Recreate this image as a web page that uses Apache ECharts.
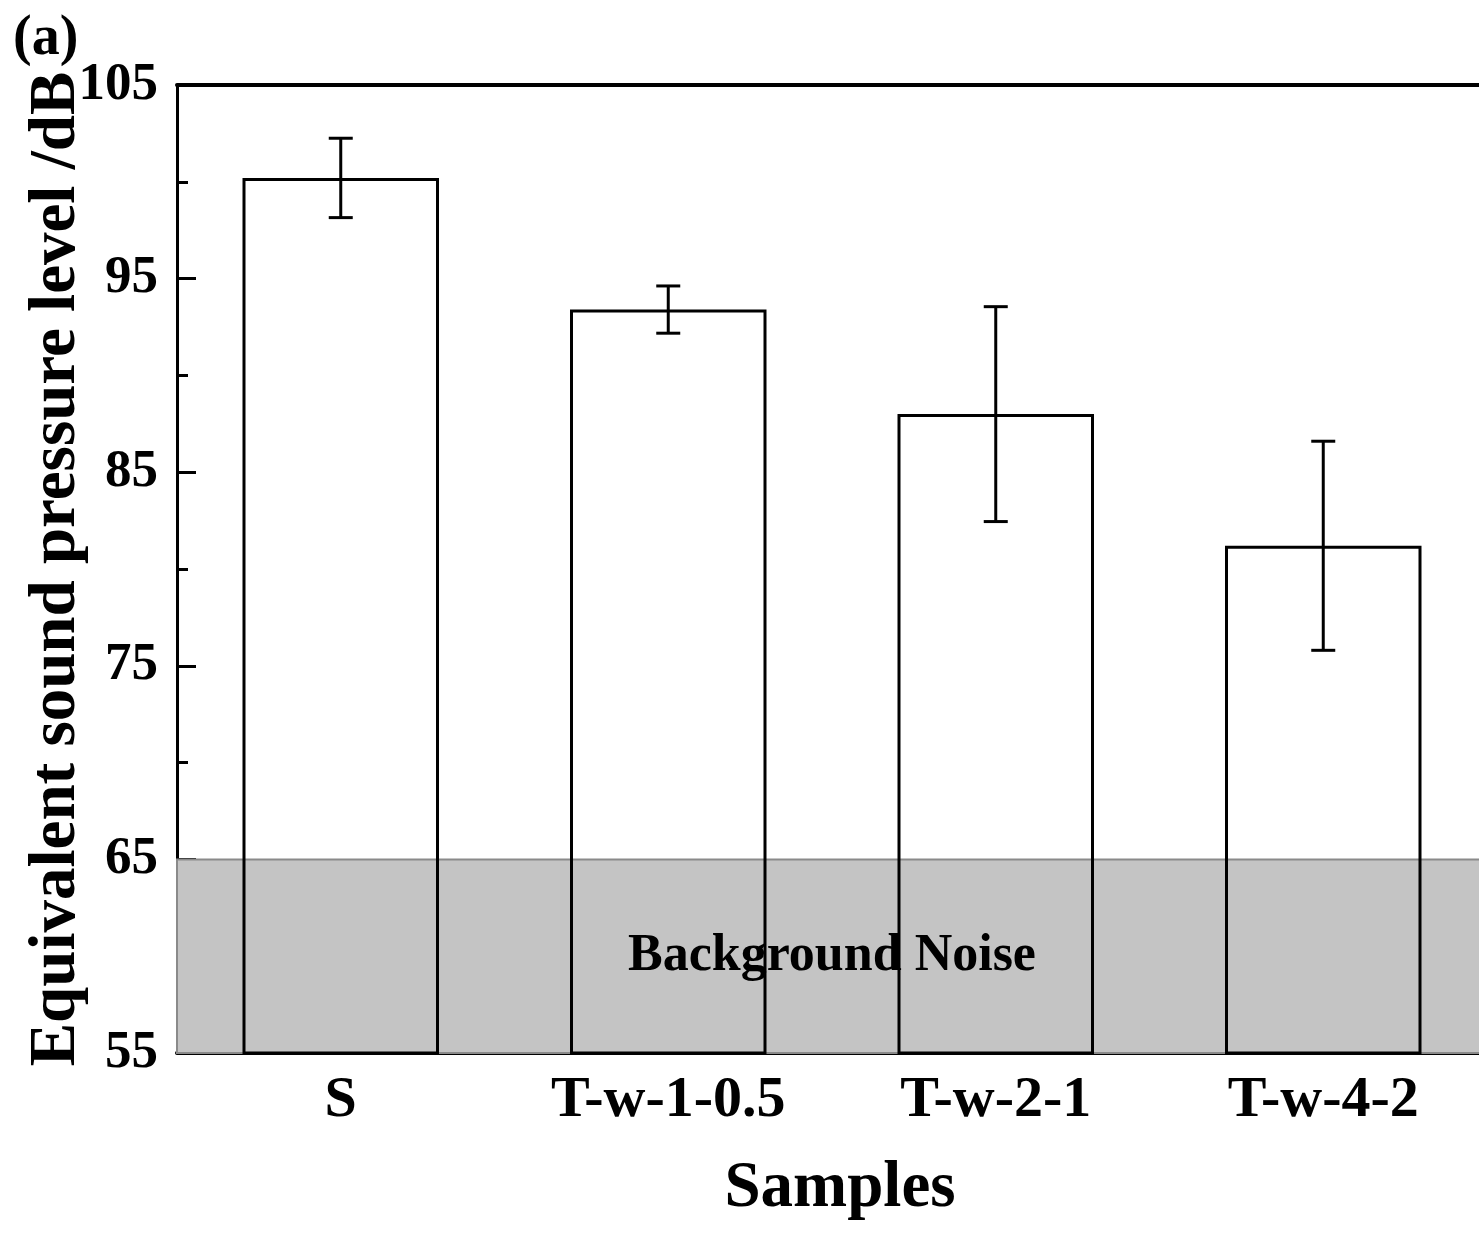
<!DOCTYPE html>
<html><head><meta charset="utf-8">
<script src="https://cdn.jsdelivr.net/npm/echarts@6/dist/echarts.min.js"></script>
<style>html,body{margin:0;padding:0;background:#fff;overflow:hidden}#c{width:1479px;height:1233px}</style>
</head><body><div id="c"></div>
<script>
const categories = ['S', 'T-w-1-0.5', 'T-w-2-1', 'T-w-4-2'];
const means = [100.2, 93.4, 88.0, 81.2];
const errors = [2.05, 1.22, 5.55, 5.4];
const yMin = 55, yMax = 105, yStep = 10;
const noiseBand = [55, 65];
const noiseLabel = 'Background Noise';
const panelLabel = '(a)';
const xTitle = 'Samples';
const yTitle = 'Equivalent sound pressure level /dB';

const FONT = '"Liberation Serif", "Times New Roman", serif';
const chart = echarts.init(document.getElementById('c'), null, {renderer: 'canvas'});

const errData = categories.map((c, i) => [i, means[i] - errors[i], means[i] + errors[i]]);

chart.setOption({
  backgroundColor: '#fff',
  animation: false,
  title: {
    text: panelLabel, left: 8, top: 7,
    textStyle: {fontFamily: FONT, fontWeight: 'bold', fontSize: 56, color: '#000'}
  },
  grid: {left: 177, right: -8, top: 85, bottom: 180, containLabel: false, outerBoundsMode: 'none'},
  xAxis: [{
    type: 'category', data: categories, position: 'bottom',
    axisLine: {show: true, lineStyle: {color: '#000', width: 4}},
    axisTick: {show: true, inside: true, alignWithLabel: true, length: 18, lineStyle: {color: '#000', width: 3}},
    axisLabel: {fontFamily: FONT, fontWeight: 'bold', fontSize: 58, color: '#000', margin: 19},
    splitLine: {show: false},
    name: xTitle, nameLocation: 'middle', nameGap: 104,
    nameTextStyle: {fontFamily: FONT, fontWeight: 'bold', fontSize: 65, color: '#000', padding: [0, 0, 0, 16]}
  }, {
    type: 'category', data: categories, position: 'top',
    axisLine: {show: true, lineStyle: {color: '#000', width: 4}},
    axisTick: {show: false}, axisLabel: {show: false}, splitLine: {show: false}
  }],
  yAxis: {
    type: 'value', min: yMin, max: yMax, interval: yStep,
    axisLine: {show: true, lineStyle: {color: '#000', width: 3}},
    axisTick: {show: true, inside: true, length: 19, lineStyle: {color: '#000', width: 3}},
    minorTick: {show: true, splitNumber: 2, length: 11, lineStyle: {color: '#000', width: 3}},
    axisLabel: {fontFamily: FONT, fontWeight: 'bold', fontSize: 53, color: '#000', margin: 19},
    splitLine: {show: false},
    name: yTitle, nameLocation: 'middle', nameRotate: 90, nameGap: 87, nameMoveOverlap: false,
    nameTextStyle: {fontFamily: FONT, fontWeight: 'bold', fontSize: 65, color: '#000'}
  },
  series: [{
    type: 'bar', data: means, barWidth: '60%', z: 2,
    itemStyle: {color: 'rgba(0,0,0,0)', borderColor: '#000', borderWidth: 3},
    markArea: {
      silent: true,
      itemStyle: {color: '#c4c4c4', borderColor: '#8a8a8a', borderWidth: 2},
      label: {show: true, position: 'inside', fontFamily: FONT, fontWeight: 'bold', fontSize: 52, color: '#000', formatter: noiseLabel},
      data: [[{yAxis: noiseBand[0]}, {yAxis: noiseBand[1]}]]
    }
  }, {
    type: 'custom', z: 5, data: errData,
    encode: {x: 0, y: [1, 2]},
    renderItem: function (params, api) {
      const x = api.value(0);
      const pLo = api.coord([x, api.value(1)]);
      const pHi = api.coord([x, api.value(2)]);
      const hw = 12;
      const st = {stroke: '#000', lineWidth: 3};
      return {type: 'group', children: [
        {type: 'line', shape: {x1: pHi[0], y1: pHi[1], x2: pLo[0], y2: pLo[1]}, style: st},
        {type: 'line', shape: {x1: pHi[0] - hw, y1: pHi[1], x2: pHi[0] + hw, y2: pHi[1]}, style: st},
        {type: 'line', shape: {x1: pLo[0] - hw, y1: pLo[1], x2: pLo[0] + hw, y2: pLo[1]}, style: st}
      ]};
    }
  }]
});
</script></body></html>
